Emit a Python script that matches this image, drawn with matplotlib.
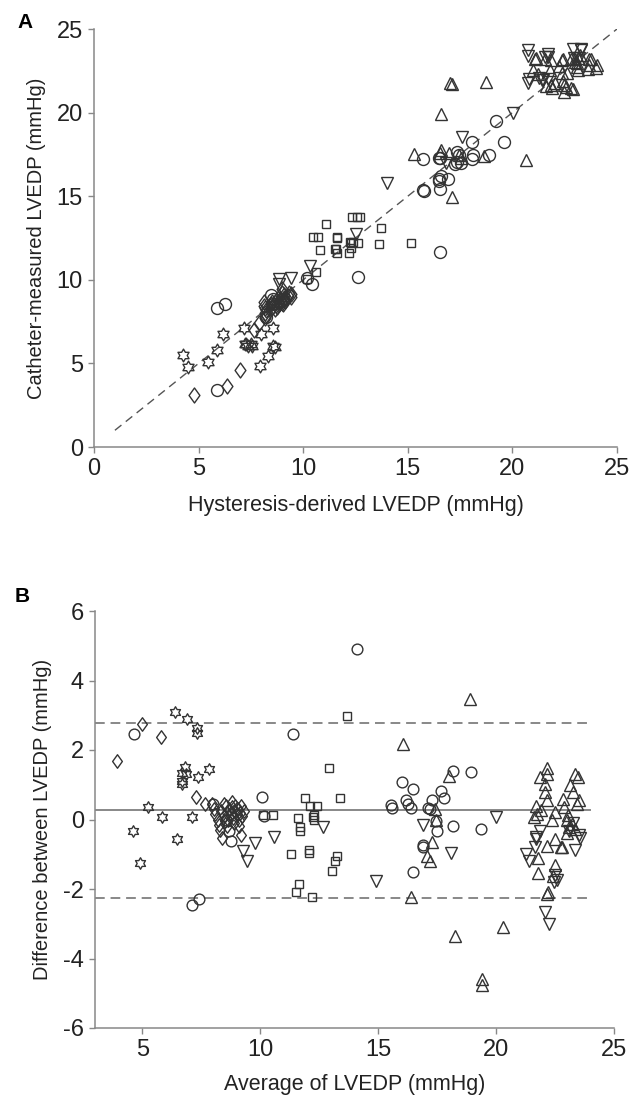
import numpy as np
import matplotlib
matplotlib.use("Agg")
import matplotlib.pyplot as plt
from matplotlib.path import Path

plt.rcParams['font.family'] = ['Liberation Sans', 'DejaVu Sans']
plt.rcParams['axes.unicode_minus'] = False

# ---------------- Data (Bland-Altman coordinates: average, difference = hysteresis - catheter)
circ_avg = [4.65, 7.1, 7.4, 8.7, 8.76, 8.0, 8.55, 10.1, 10.15, 11.4, 14.1, 15.54, 15.57, 16.0, 16.46,
            16.2, 16.26, 16.4, 16.48, 16.9, 16.92, 17.1, 17.2, 17.28, 17.45, 17.5, 17.65, 17.8,
            18.17, 18.17, 18.93, 19.35]
circ_diff = [2.47, -2.47, -2.3, -0.33, -0.63, 0.46, 0.0, 0.66, 0.1, 2.47, 4.92, 0.43, 0.34, 1.09, 0.89,
             0.55, 0.46, 0.34, -1.52, -0.78, -0.72, 0.34, 0.29, 0.57, -0.03, -0.32, 0.81, 0.63,
             1.41, -0.2, 1.36, -0.26]

diam_avg = [3.93, 5.0, 5.8, 7.3, 7.66, 8.4, 9.2,
            7.95, 8.05, 8.1, 8.2, 8.25, 8.3, 8.35, 8.45, 8.5, 8.55, 8.6, 8.65, 8.7, 8.75, 8.8,
            8.85, 8.9, 8.95, 9.0, 9.05, 9.1, 9.15, 9.2, 9.25, 8.6, 8.9, 9.3, 8.45, 8.8, 9.1]
diam_diff = [1.67, 2.76, 2.36, 0.66, 0.46, -0.52, -0.46,
             0.45, 0.3, 0.15, 0.0, -0.15, -0.3, 0.25, 0.1, -0.05, 0.4, 0.2, 0.0, 0.3, 0.15, 0.35,
             0.05, 0.25, 0.4, 0.15, 0.3, 0.0, 0.2, 0.4, 0.1, -0.2, -0.1, 0.25, 0.45, 0.5, -0.2]

star_avg = [4.63, 4.9, 5.26, 5.86, 6.39, 6.46, 6.9, 7.13, 7.32, 7.32, 6.7, 6.8, 6.7, 6.68, 6.85,
            7.36, 7.84]
star_diff = [-0.32, -1.26, 0.37, 0.06, 3.08, -0.55, 2.88, 0.06, 2.62, 2.5, 1.35, 1.5, 1.12, 1.03, 1.32,
             1.21, 1.46]

sq_avg = [10.13, 10.55, 11.3, 11.6, 11.7, 11.7, 11.9, 12.1, 12.4, 12.07, 12.07, 12.25, 12.3, 12.27,
          11.5, 11.65, 12.2, 12.9, 13.4, 13.25, 13.17, 13.05, 13.67]
sq_diff = [0.12, 0.12, -0.98, 0.03, -0.23, -0.32, 0.61, 0.4, 0.4, -0.87, -0.95, 0.06, 0.12, -0.02,
           -2.1, -1.87, -2.24, 1.47, 0.61, -1.04, -1.2, -1.47, 2.99]

up_avg = [16.05, 16.4, 17.06, 17.2, 17.28, 17.4, 17.45, 18.0, 18.25, 18.9, 19.4, 19.4, 20.3,
          22.15, 22.15, 21.86, 22.07, 22.07, 22.15, 21.7, 21.9, 21.6, 21.75, 22.36, 22.5, 22.15,
          22.5, 22.8, 21.77, 21.77, 22.5, 22.4, 22.2, 22.15,
          23.34, 23.46, 23.12, 23.25, 22.83, 22.9, 23.5, 23.45, 23.05, 23.0, 23.2, 23.1, 23.34,
          23.0, 22.75]
up_diff = [2.16, -2.24, -1.04, -1.18, -0.65, 0.29, 0.0, 1.24, -3.35, 3.48, -4.6, -4.75, -3.1,
           1.47, 1.32, 1.21, 1.03, 0.78, 0.57, 0.40, 0.26, 0.06, 0.17, 0.0, 0.23, -0.75,
           -0.55, -0.8, -1.12, -1.55, -1.32, -1.64, -2.1, -2.13,
           1.32, 1.21, 0.98, 0.78, 0.6, 0.37, 0.55, 0.46, 0.12, 0.0, -0.12, -0.23, -0.26,
           -0.4, -0.78]

dn_avg = [9.28, 9.43, 9.78, 10.58, 12.65, 14.9, 16.9, 18.08, 20.0, 22.07, 22.24, 21.86, 21.7,
          21.68, 21.65, 21.25, 21.4, 22.5, 22.6, 22.45, 23.1, 23.5, 23.55, 23.34, 23.25]
dn_diff = [-0.9, -1.18, -0.69, -0.49, -0.22, -1.76, -0.17, -0.97, 0.06, -2.65, -3.02, -0.32, -0.49,
           -0.55, -0.8, -1.0, -1.18, -1.6, -1.75, -1.8, -0.32, -0.46, -0.52, -0.87, -0.09]

bias = 0.26
loa_upper = 2.78
loa_lower = -2.27
identity_range = [1, 25]
ba_line_range = [3, 24]

# ---------------- Markers
def hexagram(inner=0.577):
    verts = []
    for k in range(12):
        ang = np.radians(90 + 30 * k)
        r = 1.0 if k % 2 == 0 else inner
        verts.append((r * np.cos(ang), r * np.sin(ang)))
    verts.append(verts[0])
    codes = [Path.MOVETO] + [Path.LINETO] * 11 + [Path.CLOSEPOLY]
    return Path(verts, codes)

diamond = Path([(0, 1), (0.72, 0), (0, -1), (-0.72, 0), (0, 1)],
               [Path.MOVETO, Path.LINETO, Path.LINETO, Path.LINETO, Path.CLOSEPOLY])
star = hexagram()

groups = [
    (circ_avg, circ_diff, 'o', 8.6),
    (diam_avg, diam_diff, diamond, 10.8),
    (star_avg, star_diff, star, 9.2),
    (sq_avg, sq_diff, 's', 5.8),
    (up_avg, up_diff, '^', 9.3),
    (dn_avg, dn_diff, 'v', 9.3),
]

EC = '#333333'
SPINE = '#888888'
TICKFS = 17
LABFS = 14.5
XLABFS = 15.5

fig = plt.figure(figsize=(6.33, 11.04), dpi=100)
axA = fig.add_axes([94 / 633, 1 - 447 / 1104, (617 - 94) / 633, 418 / 1104])
axB = fig.add_axes([95 / 633, 1 - 1028 / 1104, (614 - 95) / 633, 417 / 1104])

for ax in (axA, axB):
    for s in ('top', 'right'):
        ax.spines[s].set_visible(False)
    for s in ('left', 'bottom'):
        ax.spines[s].set_color(SPINE)
        ax.spines[s].set_linewidth(1.1)
    ax.tick_params(direction='out', length=4, width=1.0, color=SPINE,
                   labelsize=TICKFS, labelcolor='#222222', pad=4)

# ---- Panel A
axA.plot(identity_range, identity_range, ls=(0, (6, 4)), color='#555555', lw=1.0, zorder=1)
for avg, diff, m, ms in groups:
    avg = np.array(avg); diff = np.array(diff)
    hyst = avg + diff / 2
    cath = avg - diff / 2
    axA.plot(hyst, cath, ls='none', marker=m, ms=ms, mfc='none', mec=EC, mew=1.0, zorder=3)
axA.set_xlim(0, 25)
axA.set_ylim(0, 25)
axA.set_xticks([0, 5, 10, 15, 20, 25])
axA.set_yticks([0, 5, 10, 15, 20, 25])
axA.set_xlabel('Hysteresis-derived LVEDP (mmHg)', fontsize=XLABFS, color='#222222', labelpad=11)
axA.set_ylabel('Catheter-measured LVEDP (mmHg)', fontsize=LABFS, color='#222222', labelpad=8)

# ---- Panel B
axB.plot(ba_line_range, [bias, bias], color='#888888', lw=1.4, zorder=1)
axB.plot(ba_line_range, [loa_upper, loa_upper], color='#888888', lw=1.4, ls=(0, (5, 3)), zorder=1)
axB.plot(ba_line_range, [loa_lower, loa_lower], color='#888888', lw=1.4, ls=(0, (5, 3)), zorder=1)
for avg, diff, m, ms in groups:
    axB.plot(avg, diff, ls='none', marker=m, ms=ms * 0.9, mfc='none', mec=EC, mew=1.0, zorder=3)
axB.set_xlim(3, 25)
axB.set_ylim(-6, 6)
axB.set_xticks([5, 10, 15, 20, 25])
axB.set_yticks([-6, -4, -2, 0, 2, 4, 6])
axB.set_xlabel('Average of LVEDP (mmHg)', fontsize=XLABFS, color='#222222', labelpad=9)
axB.set_ylabel('Difference between LVEDP (mmHg)', fontsize=LABFS, color='#222222', labelpad=8)

fig.text(17 / 633, 1 - 22 / 1104, 'A', fontsize=15, fontweight='bold', va='center', ha='left')
fig.text(15 / 633, 1 - 597 / 1104, 'B', fontsize=15, fontweight='bold', va='center', ha='left')

fig.savefig('out.png', dpi=100)
